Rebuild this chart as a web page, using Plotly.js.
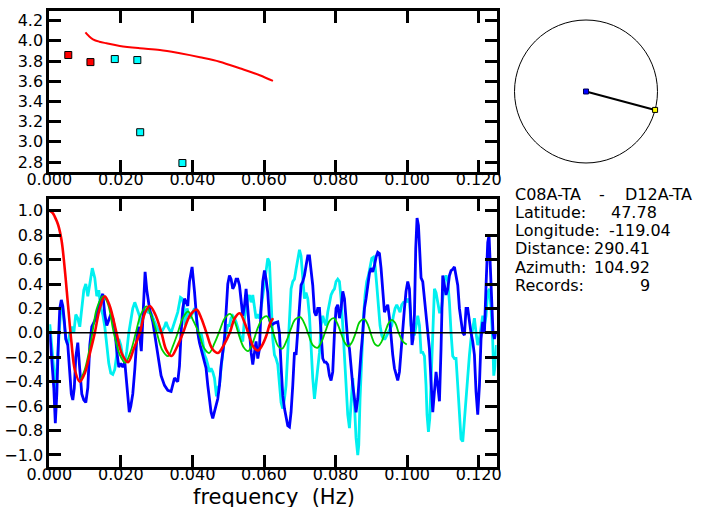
<!DOCTYPE html>
<html><head><meta charset="utf-8">
<script src="https://cdn.plot.ly/plotly-3.0.1.min.js"></script>
<style>html,body{margin:0;padding:0;background:#fff;}#chart{width:703px;height:519px;}</style>
</head><body><div id="chart"></div>
<script>
// ---- top panel: group velocity (km/s) vs frequency ----
const modelFreq = [0.0101,0.0110,0.0122,0.0140,0.0160,0.0197,0.0253,0.0309,0.0365,0.0421,0.0476,0.0532,0.0588,0.0625];
const modelVel  = [4.085,4.050,4.016,3.992,3.976,3.950,3.927,3.910,3.877,3.838,3.794,3.729,3.660,3.603];
const obsFreqRed  = [0.0053,0.0115];
const obsVelRed   = [3.86,3.79];
const obsFreqCyan = [0.0183,0.0246,0.0254,0.0372];
const obsVelCyan  = [3.82,3.81,3.095,2.79];

// ---- bottom panel: cross-correlation spectra ----
const blueFreq = [
0.00014,0.00070,0.00126,0.00168,0.00210,0.00251,0.00293,0.00335,0.00377,0.00419,
0.00461,0.00517,0.00573,0.00615,0.00657,0.00699,0.00740,0.00796,0.00852,0.00908,
0.00964,0.01020,0.01076,0.01132,0.01187,0.01271,0.01355,0.01411,0.01495,0.01551,
0.01607,0.01662,0.01718,0.01774,0.01830,0.01886,0.01942,0.01998,0.02054,0.02110,
0.02165,0.02235,0.02277,0.02333,0.02389,0.02445,0.02501,0.02571,0.02612,0.02677,
0.02724,0.02800,0.02892,0.02984,0.03079,0.03124,0.03219,0.03311,0.03403,0.03498,
0.03590,0.03638,0.03683,0.03730,0.03778,0.03870,0.03917,0.03990,0.04057,0.04102,
0.04149,0.04197,0.04241,0.04336,0.04381,0.04429,0.04476,0.04521,0.04568,0.04616,
0.04708,0.04756,0.04800,0.04895,0.04940,0.04988,0.05035,0.05080,0.05127,0.05175,
0.05219,0.05267,0.05314,0.05359,0.05407,0.05454,0.05499,0.05546,0.05594,0.05639,
0.05686,0.05734,0.05778,0.05826,0.05873,0.05918,0.05965,0.06013,0.06058,0.06105,
0.06153,0.06197,0.06292,0.06385,0.06432,0.06477,0.06524,0.06572,0.06616,0.06664,
0.06711,0.06756,0.06804,0.06851,0.06896,0.06943,0.06991,0.07035,0.07083,0.07130,
0.07175,0.07223,0.07270,0.07315,0.07362,0.07410,0.07455,0.07502,0.07550,0.07594,
0.07642,0.07689,0.07734,0.07782,0.07829,0.07874,0.07921,0.07969,0.08013,0.08061,
0.08108,0.08153,0.08201,0.08248,0.08293,0.08340,0.08388,0.08433,0.08480,0.08528,
0.08572,0.08620,0.08667,0.08712,0.08760,0.08807,0.08852,0.08899,0.08947,0.08991,
0.09039,0.09086,0.09131,0.09179,0.09226,0.09271,0.09318,0.09366,0.09411,0.09458,
0.09506,0.09550,0.09598,0.09645,0.09690,0.09737,0.09785,0.09830,0.09877,0.09925,
0.09969,0.10017,0.10064,0.10092,0.10109,0.10137,0.10165,0.10204,0.10240,0.10277,
0.10316,0.10352,0.10389,0.10436,0.10484,0.10528,0.10576,0.10623,0.10668,0.10716,
0.10763,0.10808,0.10855,0.10903,0.10947,0.10995,0.11042,0.11087,0.11135,0.11182,
0.11227,0.11274,0.11322,0.11366,0.11414,0.11461,0.11506,0.11554,0.11601,0.11646,
0.11693,0.11741,0.11785,0.11833,0.11880,0.11925,0.11973,0.12020,0.12065,0.12112,
0.12160,0.12205,0.12252,0.12289,0.12328,0.12364,0.12400,0.12439,0.12484];
const blueVal = [
0.0,-0.2,-0.45,-0.74,-0.5,-0.1,0.2,0.27,0.22,0.1,
-0.05,-0.1,-0.3,-0.5,-0.55,-0.45,-0.2,-0.08,-0.3,-0.5,
-0.55,-0.57,-0.45,-0.1,0.05,0.1,0.18,0.25,0.32,0.15,
0.06,0.1,0.15,0.12,0.03,-0.15,-0.28,-0.25,-0.28,-0.24,
-0.45,-0.65,-0.6,-0.5,-0.3,-0.05,0.05,-0.15,0.1,0.5,
0.35,0.2,0.09,-0.1,-0.27,-0.35,-0.43,-0.47,-0.48,-0.37,
-0.4,-0.27,0.0,0.2,0.28,0.22,0.42,0.54,0.34,0.17,
0.0,-0.08,-0.13,-0.26,-0.29,-0.43,-0.54,-0.65,-0.7,-0.65,
-0.54,-0.43,-0.27,-0.05,0.2,0.4,0.47,0.44,0.36,0.39,
0.44,0.44,0.39,0.28,0.14,0.22,0.36,0.2,0.0,-0.16,
-0.26,-0.16,-0.07,-0.21,-0.13,0.2,0.42,0.51,0.44,0.33,
0.11,0.06,0.08,0.09,0.0,-0.27,-0.51,-0.62,-0.7,-0.76,
-0.77,-0.65,-0.43,-0.16,-0.18,0.0,0.22,0.39,0.42,0.47,
0.55,0.63,0.63,0.5,0.39,0.17,0.14,0.2,0.2,0.0,
-0.21,-0.24,-0.24,-0.26,-0.35,-0.39,-0.32,0.0,0.2,0.23,
0.12,0.2,0.34,0.28,0.09,-0.07,-0.13,-0.32,-0.43,-0.54,
-0.65,-0.54,-0.32,-0.16,0.0,0.2,0.28,0.39,0.49,0.53,
0.5,0.55,0.62,0.66,0.65,0.53,0.34,0.17,0.2,0.23,
0.12,-0.05,-0.18,-0.29,-0.35,-0.39,-0.32,-0.13,0.0,0.2,
0.34,0.42,0.36,0.2,0.0,-0.1,-0.05,0.15,0.69,0.94,
0.88,0.66,0.45,0.42,0.28,0.2,0.0,-0.13,-0.4,-0.65,
-0.48,-0.32,-0.43,-0.56,-0.13,0.47,0.39,0.31,0.36,0.47,
0.51,0.52,0.54,0.47,0.39,0.2,0.09,0.0,-0.02,0.2,
0.2,0.09,0.0,-0.07,-0.18,-0.48,-0.67,-0.43,-0.05,0.09,
0.0,0.39,0.74,0.8,0.5,0.28,0.0,-0.05,0.0];

const cyanFreq = [
0.00014,0.00070,0.00126,0.00168,0.00210,0.00265,0.00321,0.00363,0.00405,0.00461,
0.00517,0.00573,0.00629,0.00685,0.00740,0.00796,0.00852,0.00908,0.00964,0.01020,
0.01076,0.01132,0.01201,0.01271,0.01327,0.01383,0.01439,0.01495,0.01551,0.01607,
0.01662,0.01718,0.01774,0.01830,0.01886,0.01942,0.01998,0.02054,0.02110,0.02165,
0.02221,0.02277,0.02333,0.02389,0.02445,0.02520,0.02565,0.02612,0.02660,0.02705,
0.02752,0.02844,0.02939,0.03032,0.03124,0.03219,0.03264,0.03311,0.03403,0.03498,
0.03590,0.03666,0.03711,0.03758,0.03794,0.03850,0.03917,0.03982,0.04057,0.04102,
0.04149,0.04197,0.04241,0.04289,0.04336,0.04381,0.04429,0.04476,0.04521,0.04568,
0.04616,0.04672,0.04708,0.04756,0.04800,0.04848,0.04895,0.04940,0.04988,0.05035,
0.05080,0.05127,0.05175,0.05219,0.05267,0.05314,0.05359,0.05407,0.05454,0.05499,
0.05546,0.05594,0.05639,0.05686,0.05734,0.05778,0.05826,0.05873,0.05918,0.05965,
0.06013,0.06058,0.06105,0.06153,0.06197,0.06245,0.06292,0.06337,0.06385,0.06432,
0.06477,0.06524,0.06572,0.06616,0.06664,0.06711,0.06756,0.06804,0.06851,0.06896,
0.06943,0.06991,0.07035,0.07083,0.07130,0.07175,0.07223,0.07270,0.07315,0.07362,
0.07410,0.07455,0.07502,0.07550,0.07594,0.07642,0.07689,0.07734,0.07782,0.07829,
0.07874,0.07921,0.07969,0.08013,0.08061,0.08108,0.08153,0.08201,0.08248,0.08293,
0.08340,0.08388,0.08433,0.08480,0.08528,0.08572,0.08620,0.08648,0.08684,0.08732,
0.08779,0.08824,0.08871,0.08919,0.08963,0.09011,0.09059,0.09103,0.09151,0.09198,
0.09243,0.09290,0.09338,0.09383,0.09430,0.09478,0.09522,0.09570,0.09617,0.09662,
0.09710,0.09757,0.09802,0.09849,0.09897,0.09941,0.09989,0.10017,0.10064,0.10109,
0.10157,0.10204,0.10249,0.10297,0.10344,0.10389,0.10436,0.10484,0.10528,0.10556,
0.10595,0.10632,0.10668,0.10716,0.10763,0.10808,0.10855,0.10903,0.10947,0.10995,
0.11042,0.11087,0.11135,0.11182,0.11227,0.11274,0.11322,0.11366,0.11414,0.11461,
0.11506,0.11554,0.11601,0.11646,0.11693,0.11741,0.11785,0.11833,0.11880,0.11925,
0.11973,0.12020,0.12065,0.12112,0.12160,0.12205,0.12252,0.12300,0.12345,0.12392,
0.12420,0.12456,0.12495];
const cyanVal = [
0.07,-0.1,-0.3,-0.48,-0.3,0.0,0.2,0.23,0.1,-0.05,
-0.1,0.0,0.05,0.0,0.15,0.12,0.05,0.2,0.35,0.4,
0.3,0.4,0.53,0.45,0.3,0.35,0.2,0.15,0.05,-0.1,
-0.25,-0.33,-0.34,-0.3,-0.15,-0.05,-0.1,-0.2,-0.25,-0.15,
0.0,0.1,0.2,0.25,0.2,0.14,0.06,0.12,0.17,0.2,
0.17,0.16,0.1,0.03,0.0,0.05,0.09,0.05,0.0,0.09,
0.17,0.29,0.28,0.23,0.06,0.2,0.12,0.15,0.2,0.14,
0.03,-0.07,0.0,-0.07,-0.18,-0.21,-0.26,-0.32,-0.29,-0.32,
-0.37,-0.52,-0.45,-0.43,-0.29,-0.18,-0.05,0.0,0.06,0.06,
0.12,0.14,0.12,0.09,0.04,0.0,-0.05,-0.07,0.12,0.2,
0.28,0.31,0.25,0.31,0.2,0.12,0.14,0.12,0.2,0.31,
0.42,0.52,0.61,0.58,0.33,-0.05,-0.18,-0.21,-0.26,-0.43,
-0.57,-0.62,-0.54,-0.43,-0.18,0.14,0.36,0.42,0.44,0.52,
0.61,0.68,0.63,0.42,0.28,0.33,0.28,0.14,-0.13,-0.37,
-0.54,-0.43,-0.32,-0.16,0.06,0.14,0.09,0.06,0.17,0.25,
0.31,0.34,0.36,0.42,0.44,0.42,0.28,0.06,-0.21,-0.46,
-0.67,-0.78,-0.57,-0.37,-0.59,-0.86,-1.0,-0.92,-0.54,-0.13,
0.12,0.31,0.42,0.47,0.55,0.61,0.62,0.55,0.39,0.2,
0.06,-0.02,-0.05,-0.05,-0.02,0.0,0.03,0.06,0.14,0.2,
0.23,0.2,0.17,0.23,0.25,0.25,0.28,0.25,0.28,0.06,
0.0,-0.02,0.06,0.14,0.06,-0.16,-0.16,-0.19,-0.43,-0.67,
-0.81,-0.7,-0.4,0.0,0.36,0.33,0.25,0.17,0.17,0.28,
0.44,0.47,0.42,0.25,0.0,-0.19,-0.21,-0.21,-0.43,-0.65,
-0.87,-0.89,-0.7,-0.51,-0.32,-0.18,-0.05,0.06,0.12,0.0,
-0.1,-0.05,0.06,0.14,0.06,0.14,0.33,0.36,0.2,-0.07,
-0.35,-0.27,-0.1];

const redFreq = [0.0,0.00098,0.00154,0.00246,0.00341,0.00433,0.00525,0.0062,0.00712,0.00852,
0.00992,0.01132,0.01271,0.01411,0.01551,0.0169,0.01878,0.02026,0.02202,0.02361,
0.02529,0.02668,0.02808,0.02962,0.03135,0.03269,0.03414,0.03562,0.03738,0.03926,
0.04113,0.04247,0.04392,0.04554,0.04716,0.04876,0.05043,0.05183,0.05323,0.05462,
0.05602,0.05714,0.05834,0.05951,0.06069,0.06161,0.06253];
const redVal = [1.0,0.98,0.95,0.885,0.76,0.52,0.22,-0.08,-0.30,-0.40,
-0.33,-0.17,0.0,0.2,0.30,0.22,0.0,-0.17,-0.24,-0.13,
0.0,0.16,0.22,0.15,0.0,-0.14,-0.19,-0.12,0.0,0.14,
0.19,0.12,0.0,-0.13,-0.165,-0.1,0.0,0.12,0.16,0.08,
-0.04,-0.12,-0.144,-0.1,-0.02,0.07,0.12];

const greenFreq = [0.0088,0.00992,0.01132,0.01215,0.01327,0.01503,0.01635,0.01802,0.0197,0.02123,
0.02277,0.02417,0.02557,0.02716,0.02864,0.03004,0.03157,0.03319,0.03451,0.0359,
0.0373,0.03878,0.04023,0.04177,0.04317,0.04465,0.04624,0.04764,0.04904,0.05052,
0.05183,0.05323,0.05435,0.05555,0.05686,0.05826,0.05965,0.06085,0.06203,0.06301,
0.06398,0.06505,0.06636,0.06748,0.06873,0.07013,0.07139,0.0725,0.07362,0.07493,
0.07614,0.07725,0.07837,0.07949,0.0806,0.08172,0.08256,0.08354,0.08452,0.08563,
0.08675,0.08801,0.08912,0.0901,0.09094,0.09192,0.0929,0.09401,0.09485,0.0957,
0.09667,0.09765,0.09877,0.09989];
const greenVal = [-0.38,-0.3,-0.12,0.02,0.2,0.30,0.24,0.0,-0.18,-0.245,
-0.15,0.0,0.15,0.216,0.13,0.0,-0.14,-0.19,-0.11,0.0,
0.12,0.175,0.1,0.0,-0.12,-0.165,-0.08,0.02,0.12,0.156,
0.09,-0.04,-0.12,-0.15,-0.08,0.04,0.12,0.135,0.06,-0.04,
-0.11,-0.13,-0.06,0.03,0.11,0.128,0.07,-0.02,-0.1,-0.122,
-0.07,0.02,0.1,0.12,0.07,-0.02,-0.08,-0.11,-0.08,0.0,
0.09,0.112,0.06,-0.03,-0.09,-0.106,-0.07,0.02,0.08,0.107,
0.08,0.0,-0.07,-0.095];

// ---- station pair info ----
const station1 = 'C08A-TA';
const station2 = 'D12A-TA';
const infoLabels = ['Latitude:','Longitude:','Distance:','Azimuth:','Records:'];
const infoValues = ['47.78','-119.04','290.41','104.92','9'];
const azimuthDeg = 104.92;

const W = 703, H = 519;
const px = x => x / W;
const py = y => 1 - y / H;

const axBase = {
  showline:true, linewidth:3, linecolor:'black', mirror:'ticks',
  ticks:'inside', ticklen:12, tickwidth:3, tickcolor:'black',
  showgrid:false, zeroline:false, fixedrange:true,
  tickfont:{family:'DejaVu Sans', size:16, color:'black'}
};
const xdom = [px(49.3), px(496.6)];

const traces = [
  {x:modelFreq, y:modelVel, xaxis:'x', yaxis:'y', mode:'lines', line:{color:'#ff0000', width:2, shape:'spline'}},
  {x:obsFreqRed, y:obsVelRed, xaxis:'x', yaxis:'y', mode:'markers',
   marker:{symbol:'square', size:7, color:'#ff0000', line:{color:'black', width:1}}},
  {x:obsFreqCyan, y:obsVelCyan, xaxis:'x', yaxis:'y', mode:'markers',
   marker:{symbol:'square', size:7, color:'#00ffff', line:{color:'black', width:1}}},
  {x:cyanFreq, y:cyanVal, xaxis:'x2', yaxis:'y2', mode:'lines', line:{color:'#00f0f0', width:2.8}},
  {x:blueFreq, y:blueVal, xaxis:'x2', yaxis:'y2', mode:'lines', line:{color:'#0000ff', width:2.8}},
  {x:greenFreq, y:greenVal, xaxis:'x2', yaxis:'y2', mode:'lines', line:{color:'#00d000', width:1.8, shape:'spline'}},
  {x:redFreq, y:redVal, xaxis:'x2', yaxis:'y2', mode:'lines', line:{color:'#ff0000', width:2.6, shape:'spline'}},
  // map panel: path from station 1 toward station 2
  {x:[0, Math.sin(azimuthDeg*Math.PI/180)], y:[0, Math.cos(azimuthDeg*Math.PI/180)],
   xaxis:'x3', yaxis:'y3', mode:'lines', line:{color:'black', width:2}},
  {x:[0], y:[0], xaxis:'x3', yaxis:'y3', mode:'markers',
   marker:{symbol:'square', size:5, color:'#0000ff', line:{color:'#000050', width:1}}},
  {x:[Math.sin(azimuthDeg*Math.PI/180)], y:[Math.cos(azimuthDeg*Math.PI/180)], xaxis:'x3', yaxis:'y3', mode:'markers',
   marker:{symbol:'square', size:5, color:'#ffff00', line:{color:'black', width:1}}}
];

const annotations = [];
const rowY = [212.5, 230.8, 249.0, 267.3, 285.7];
const valRight = [659, 673, 652, 652, 652];
annotations.push({text:station1, x:px(513), y:py(194.2), xref:'paper', yref:'paper', xanchor:'left', yanchor:'middle', showarrow:false});
annotations.push({text:'-', x:px(602), y:py(194.2), xref:'paper', yref:'paper', xanchor:'center', yanchor:'middle', showarrow:false});
annotations.push({text:station2, x:px(694), y:py(194.2), xref:'paper', yref:'paper', xanchor:'right', yanchor:'middle', showarrow:false});
infoLabels.forEach((t,i)=>{
  annotations.push({text:t, x:px(513), y:py(rowY[i]), xref:'paper', yref:'paper', xanchor:'left', yanchor:'middle', showarrow:false});
  annotations.push({text:infoValues[i], x:px(valRight[i]), y:py(rowY[i]), xref:'paper', yref:'paper', xanchor:'right', yanchor:'middle', showarrow:false});
});
annotations.push({text:'frequency\u00a0\u00a0(Hz)', x:px(273.5), y:py(497), xref:'paper', yref:'paper', xanchor:'center', yanchor:'middle', showarrow:false, font:{size:21}, height:20, borderpad:0});

const layout = {
  width:W, height:H, margin:{l:0, r:0, t:0, b:0},
  paper_bgcolor:'white', plot_bgcolor:'white', showlegend:false,
  font:{family:'DejaVu Sans', size:16, color:'black'},
  xaxis:Object.assign({}, axBase, {domain:xdom, anchor:'y', range:[0,0.125], tick0:0, dtick:0.02, tickformat:'.3f', ticklabelstandoff:-9}),
  yaxis:Object.assign({}, axBase, {domain:[py(172.1), py(10.6)], anchor:'x', range:[2.7,4.3], tick0:2.8, dtick:0.2, tickformat:'.1f'}),
  xaxis2:Object.assign({}, axBase, {domain:xdom, anchor:'y2', range:[0,0.125], tick0:0, dtick:0.02, tickformat:'.3f', ticklabelstandoff:-9}),
  yaxis2:Object.assign({}, axBase, {domain:[py(467.2), py(198.5)], anchor:'x2', range:[-1.1,1.1], tick0:-1.0, dtick:0.2, tickformat:'.1f'}),
  xaxis3:{domain:[px(506), px(666)], anchor:'y3', range:[-1.119,1.119], visible:false, fixedrange:true},
  yaxis3:{domain:[py(171.5), py(11.5)], anchor:'x3', range:[-1.119,1.119], visible:false, fixedrange:true},
  shapes:[
    {type:'line', xref:'x2 domain', x0:0, x1:1, yref:'y2', y0:0, y1:0, line:{color:'black', width:1.5}, layer:'above'},
    {type:'circle', xref:'x3', yref:'y3', x0:-1, x1:1, y0:-1, y1:1, line:{color:'black', width:1}, layer:'below'}
  ],
  annotations:annotations
};

Plotly.newPlot('chart', traces, layout, {staticPlot:true, displayModeBar:false});
</script>
</body></html>
